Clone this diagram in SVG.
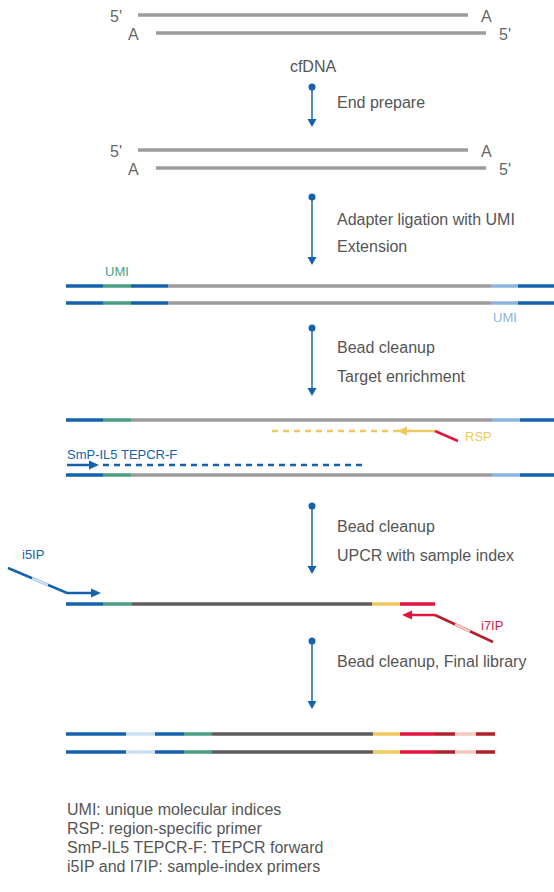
<svg xmlns="http://www.w3.org/2000/svg" width="554" height="892" viewBox="0 0 554 892">
<style>
text{font-family:"Liberation Sans",Arial,sans-serif;}
.t{font-size:16px;fill:#555;}
.e{font-size:16px;fill:#666;}
.s{font-size:13px;}
.d{stroke-width:3.5;fill:none;stroke-linecap:butt;}
.g{stroke:#9c9c9c;}
.dg{stroke:#5c5c5c;}
.b{stroke:#1462ae;}
.gr{stroke:#4a9e80;}
.lb{stroke:#8cb4e0;}
.vlb{stroke:#cde0f3;}
.y{stroke:#f0c860;}
.r{stroke:#e2153c;}
.dr{stroke:#b0202a;}
.pk{stroke:#f6c9c0;}
.c{stroke:#1a66b0;stroke-width:1.5;fill:none;}
.p{stroke-width:2.5;fill:none;}
</style>
<g id="cfdna">
<line class="d g" x1="138" y1="15" x2="468" y2="15"/>
<line class="d g" x1="156" y1="33" x2="486" y2="33"/>
<text class="e" x="110" y="22">5'</text>
<text class="e" x="481" y="22">A</text>
<text class="e" x="128" y="40">A</text>
<text class="e" x="499" y="40">5'</text>
<text class="t" x="313" y="72" text-anchor="middle">cfDNA</text>
</g>
<g id="end-prepared">
<line class="d g" x1="138" y1="150" x2="468" y2="150"/>
<line class="d g" x1="156" y1="168" x2="486" y2="168"/>
<text class="e" x="110" y="157">5'</text>
<text class="e" x="481" y="157">A</text>
<text class="e" x="128" y="175">A</text>
<text class="e" x="499" y="175">5'</text>
</g>
<g id="adapter-ligated">
<text class="s" x="105" y="276" fill="#4a9e80">UMI</text>
<line class="d b" x1="66" y1="286" x2="103" y2="286"/>
<line class="d gr" x1="103" y1="286" x2="131" y2="286"/>
<line class="d b" x1="131" y1="286" x2="168" y2="286"/>
<line class="d g" x1="168" y1="286" x2="491" y2="286"/>
<line class="d lb" x1="491" y1="286" x2="518" y2="286"/>
<line class="d b" x1="518" y1="286" x2="554" y2="286"/>
<line class="d b" x1="66" y1="303" x2="103" y2="303"/>
<line class="d gr" x1="103" y1="303" x2="131" y2="303"/>
<line class="d b" x1="131" y1="303" x2="168" y2="303"/>
<line class="d g" x1="168" y1="303" x2="491" y2="303"/>
<line class="d lb" x1="491" y1="303" x2="518" y2="303"/>
<line class="d b" x1="518" y1="303" x2="554" y2="303"/>
<text class="s" x="493" y="322" fill="#8cb4e0">UMI</text>
</g>
<g id="target-enriched">
<line class="d b" x1="66" y1="420" x2="103" y2="420"/>
<line class="d gr" x1="103" y1="420" x2="131" y2="420"/>
<line class="d g" x1="131" y1="420" x2="492" y2="420"/>
<line class="d lb" x1="492" y1="420" x2="520" y2="420"/>
<line class="d b" x1="520" y1="420" x2="554" y2="420"/>
<line class="p y" x1="272" y1="431" x2="400" y2="431" stroke-dasharray="6 5"/>
<line class="p y" x1="404" y1="431" x2="435" y2="431"/>
<polygon points="397,431 407,426.5 407,435.5" fill="#f0c860"/>
<line class="p r" x1="435" y1="431" x2="458" y2="441"/>
<text class="s" x="465" y="441" fill="#f0c860">RSP</text>
<text class="s" x="67" y="459" fill="#1462ae">SmP-IL5 TEPCR-F</text>
<line class="p b" x1="67" y1="465" x2="90" y2="465"/>
<polygon points="99,465 89,460.5 89,469.5" fill="#1462ae"/>
<line class="p b" x1="103" y1="465" x2="365" y2="465" stroke-dasharray="6 5"/>
<line class="d b" x1="66" y1="475" x2="103" y2="475"/>
<line class="d gr" x1="103" y1="475" x2="131" y2="475"/>
<line class="d g" x1="131" y1="475" x2="492" y2="475"/>
<line class="d lb" x1="492" y1="475" x2="520" y2="475"/>
<line class="d b" x1="520" y1="475" x2="554" y2="475"/>
</g>
<g id="upcr-product">
<text class="s" x="22" y="559" fill="#1462ae">i5IP</text>
<polyline class="p b" points="8,568 67,593 92,593"/>
<line class="p vlb" x1="32" y1="578.2" x2="48" y2="585"/>
<polygon points="101,593 91,588.5 91,597.5" fill="#1462ae"/>
<line class="d b" x1="66" y1="604" x2="103" y2="604"/>
<line class="d gr" x1="103" y1="604" x2="132" y2="604"/>
<line class="d dg" x1="132" y1="604" x2="372" y2="604"/>
<line class="d y" x1="372" y1="604" x2="400" y2="604"/>
<line class="d r" x1="400" y1="604" x2="435" y2="604"/>
<line class="p r" x1="410" y1="615" x2="435" y2="615"/>
<polygon points="402,615 412,610.5 412,619.5" fill="#e2153c"/>
<polyline class="p dr" points="435,615 493,642"/>
<line class="p pk" x1="455" y1="624.3" x2="470" y2="631.3"/>
<text class="s" x="481" y="630" fill="#d81e48">i7IP</text>
</g>
<g id="final-library">
<g>
<line class="d b" x1="66" y1="734" x2="126" y2="734"/>
<line class="d vlb" x1="126" y1="734" x2="155" y2="734"/>
<line class="d b" x1="155" y1="734" x2="184" y2="734"/>
<line class="d gr" x1="184" y1="734" x2="212" y2="734"/>
<line class="d dg" x1="212" y1="734" x2="373" y2="734"/>
<line class="d y" x1="373" y1="734" x2="400" y2="734"/>
<line class="d r" x1="400" y1="734" x2="435" y2="734"/>
<line class="d dr" x1="435" y1="734" x2="455" y2="734"/>
<line class="d pk" x1="455" y1="734" x2="476" y2="734"/>
<line class="d dr" x1="476" y1="734" x2="495" y2="734"/>
</g>
<g>
<line class="d b" x1="66" y1="752" x2="126" y2="752"/>
<line class="d vlb" x1="126" y1="752" x2="155" y2="752"/>
<line class="d b" x1="155" y1="752" x2="184" y2="752"/>
<line class="d gr" x1="184" y1="752" x2="212" y2="752"/>
<line class="d dg" x1="212" y1="752" x2="373" y2="752"/>
<line class="d y" x1="373" y1="752" x2="400" y2="752"/>
<line class="d r" x1="400" y1="752" x2="435" y2="752"/>
<line class="d dr" x1="435" y1="752" x2="455" y2="752"/>
<line class="d pk" x1="455" y1="752" x2="476" y2="752"/>
<line class="d dr" x1="476" y1="752" x2="495" y2="752"/>
</g>
</g>
<g id="connectors">
<circle cx="312" cy="87" r="3.5" fill="#1462ae"/>
<line class="c" x1="312" y1="87" x2="312" y2="120"/>
<polygon points="312,127 307.5,119 316.5,119" fill="#1462ae"/>
<circle cx="312" cy="197" r="3.5" fill="#1462ae"/>
<line class="c" x1="312" y1="197" x2="312" y2="258"/>
<polygon points="312,265 307.5,257 316.5,257" fill="#1462ae"/>
<circle cx="312" cy="328" r="3.5" fill="#1462ae"/>
<line class="c" x1="312" y1="328" x2="312" y2="389"/>
<polygon points="312,396 307.5,388 316.5,388" fill="#1462ae"/>
<circle cx="312" cy="506" r="3.5" fill="#1462ae"/>
<line class="c" x1="312" y1="506" x2="312" y2="567"/>
<polygon points="312,574 307.5,566 316.5,566" fill="#1462ae"/>
<circle cx="312" cy="641" r="3.5" fill="#1462ae"/>
<line class="c" x1="312" y1="641" x2="312" y2="702"/>
<polygon points="312,709 307.5,701 316.5,701" fill="#1462ae"/>
</g>
<g id="step-labels">
<text class="t" x="337" y="108">End prepare</text>
<text class="t" x="337" y="225">Adapter ligation with UMI</text>
<text class="t" x="337" y="252">Extension</text>
<text class="t" x="337" y="353">Bead cleanup</text>
<text class="t" x="337" y="382">Target enrichment</text>
<text class="t" x="337" y="532">Bead cleanup</text>
<text class="t" x="337" y="561">UPCR with sample index</text>
<text class="t" x="337" y="667">Bead cleanup, Final library</text>
</g>
<g id="legend">
<text class="t" x="67" y="815">UMI: unique molecular indices</text>
<text class="t" x="67" y="834">RSP: region-specific primer</text>
<text class="t" x="67" y="853">SmP-IL5 TEPCR-F: TEPCR forward</text>
<text class="t" x="67" y="872">i5IP and I7IP: sample-index primers</text>
</g>
</svg>
